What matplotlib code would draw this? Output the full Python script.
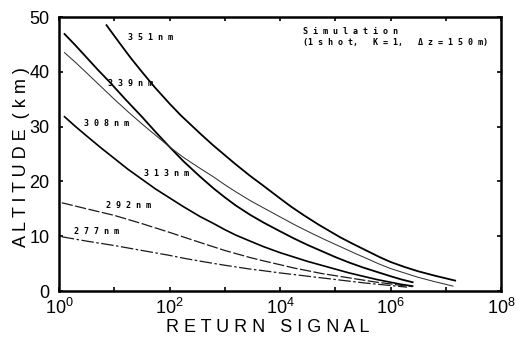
import numpy as np
import matplotlib
matplotlib.use("Agg")
import matplotlib.pyplot as plt

plt.rcParams['font.family'] = ['Liberation Sans', 'DejaVu Sans']
plt.rcParams['mathtext.default'] = 'regular'

# log10 of return signal, altitude in km
x_351 = [0.86, 1.1, 1.3, 1.5, 1.74, 2.0, 2.2, 2.4, 2.58, 2.8, 3.0, 3.2, 3.46, 3.7,
         4.0, 4.2, 4.42, 4.7, 5.09, 5.3, 5.6, 5.8, 6.0, 6.25, 6.5, 6.8, 7.17]
y_351 = [48.5, 45.2, 42.5, 40.0, 37.1, 34.2, 32.1, 30.2, 28.5, 26.5, 24.8, 23.1, 21.0, 19.2,
         16.9, 15.4, 13.9, 12.1, 9.8, 8.7, 7.2, 6.2, 5.3, 4.4, 3.6, 2.8, 1.9]

x_339 = [0.1, 0.3, 0.5, 0.7, 0.92, 1.2, 1.5, 1.75, 2.0, 2.25, 2.55, 2.8, 3.0, 3.2, 3.46,
         3.7, 4.0, 4.25, 4.5, 4.75, 5.0, 5.25, 5.5, 5.75, 6.0, 6.2, 6.4]
y_339 = [46.9, 44.8, 42.6, 40.4, 38.1, 35.0, 31.8, 29.0, 26.3, 23.7, 20.9, 18.7, 17.1, 15.6, 13.9,
         12.5, 10.9, 9.6, 8.4, 7.3, 6.2, 5.2, 4.3, 3.5, 2.7, 2.1, 1.6]

x_313 = [0.1, 0.3, 0.5, 0.75, 1.0, 1.25, 1.5, 1.75, 2.0, 2.25, 2.55, 2.8, 3.0, 3.2, 3.46,
         3.75, 4.06, 4.3, 4.6, 4.85, 5.09, 5.35, 5.6, 5.8, 6.0, 6.25, 6.5, 6.8, 7.13]
y_313 = [43.5, 41.7, 39.8, 37.4, 35.0, 32.7, 30.5, 28.4, 26.3, 24.4, 22.4, 20.8, 19.4, 18.1, 16.5,
         14.9, 13.2, 11.9, 10.4, 9.2, 8.1, 6.9, 5.8, 4.9, 4.1, 3.3, 2.5, 1.7, 0.9]

x_308 = [0.1, 0.3, 0.5, 0.75, 1.0, 1.25, 1.5, 1.75, 2.0, 2.25, 2.55, 2.8, 3.0, 3.2, 3.46,
         3.7, 4.0, 4.25, 4.5, 4.75, 5.0, 5.25, 5.5, 5.75, 6.0, 6.2, 6.4]
y_308 = [31.8, 30.0, 28.3, 26.2, 24.2, 22.2, 20.4, 18.6, 17.0, 15.4, 13.6, 12.3, 11.2, 10.2, 9.1,
         8.1, 7.0, 6.2, 5.4, 4.7, 4.0, 3.3, 2.7, 2.1, 1.6, 1.2, 0.9]

x_292 = [0.05, 0.5, 1.0, 1.5, 2.0, 2.3, 2.6, 3.0, 3.46, 3.7, 4.0, 4.25, 4.5, 4.75, 5.0,
         5.25, 5.5, 5.75, 6.0, 6.2, 6.4]
y_292 = [16.1, 15.0, 13.8, 12.3, 10.7, 9.7, 8.7, 7.4, 6.1, 5.5, 4.8, 4.2, 3.7, 3.2, 2.8,
         2.4, 2.0, 1.6, 1.3, 1.0, 0.8]

x_277 = [0.05, 0.5, 1.0, 1.5, 2.0, 2.3, 2.64, 3.0, 3.46, 3.7, 4.0, 4.25, 4.5, 4.75, 5.0,
         5.25, 5.5, 5.75, 6.0, 6.3]
y_277 = [9.9, 9.1, 8.3, 7.4, 6.5, 5.9, 5.3, 4.7, 4.0, 3.7, 3.3, 3.0, 2.7, 2.4, 2.1,
         1.8, 1.5, 1.25, 1.0, 0.7]

yticks = [0, 10, 20, 30, 40, 50]
xtick_exps = [0, 2, 4, 6, 8]

fig = plt.figure(figsize=(5.16, 3.40), dpi=100)
ax = fig.add_axes([59/516, 1 - 291/340, 442/516, 274/340])

ax.plot(10**np.array(x_351), y_351, color='black', lw=1.3)
ax.plot(10**np.array(x_339), y_339, color='black', lw=1.3)
ax.plot(10**np.array(x_313), y_313, color='0.2', lw=0.75)
ax.plot(10**np.array(x_308), y_308, color='black', lw=1.2)
ax.plot(10**np.array(x_292), y_292, color='0.1', lw=0.9, linestyle=(0, (9, 2)))
ax.plot(10**np.array(x_277), y_277, color='0.1', lw=0.9, linestyle=(0, (10, 2, 2, 2)))

ax.set_xscale('log')
ax.set_xlim(1, 1e8)
ax.set_ylim(0, 50)
ax.set_yticks(yticks)
ax.set_yticklabels([str(v) for v in yticks])
ax.set_xticks([10**e for e in range(0, 9)])
ax.set_xticklabels(['$10^{%d}$' % e if e in xtick_exps else '' for e in range(0, 9)])
ax.minorticks_off()
ax.tick_params(direction='in', length=3, width=1.2, labelsize=13,
               top=True, right=True)
ax.tick_params(axis='y', pad=7)
ax.tick_params(axis='x', pad=5)
for s in ax.spines.values():
    s.set_linewidth(1.8)

# curve labels
mono = dict(family='DejaVu Sans Mono', fontsize=6, fontweight='bold',
            ha='center', va='center', transform=fig.transFigure)
labels = [('3 5 1 n m', 150, 37), ('3 3 9 n m', 131, 83), ('3 0 8 n m', 107, 123),
          ('3 1 3 n m', 166, 174), ('2 9 2 n m', 129, 205), ('2 7 7 n m', 97, 231)]
for t, px, py in labels:
    fig.text(px/516, 1 - py/340, t, **mono)

mono_l = dict(mono, ha='left')
fig.text(303/516, 1 - 31/340, 'S i m u l a t i o n', **mono_l)
fig.text(303/516, 1 - 43/340, '(1 s h o t,   K = 1,   \u0394 z = 1 5 0 m)', **mono_l)

fig.text(268/516, 1 - 327/340, 'R E T U R N   S I G N A L', ha='center', va='center',
         fontsize=13)
fig.text(22/516, 1 - 157/340, 'A L T I T U D E  ( k m )', ha='center', va='center',
         rotation=90, fontsize=13)

fig.savefig('out.png', dpi=100)
